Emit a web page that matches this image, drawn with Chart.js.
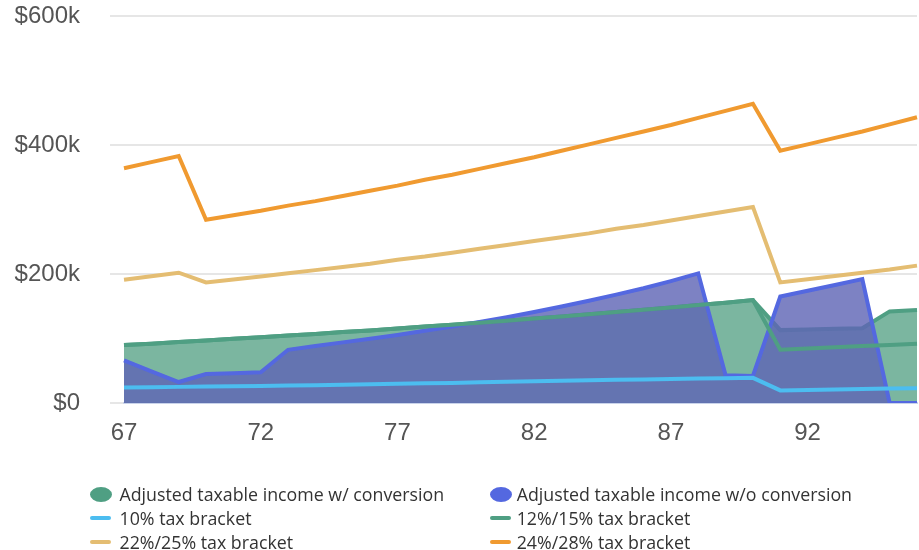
<!DOCTYPE html>
<html>
<head>
<meta charset="utf-8">
<script src="https://cdn.jsdelivr.net/npm/chart.js@4.4.1/dist/chart.umd.min.js"></script>
<style>
html,body{margin:0;padding:0;background:#fff;}
#wrap{position:relative;width:919px;height:550px;overflow:hidden;}
#c{position:absolute;left:0;top:0;}
.lg-mark{position:absolute;}
.lg-text{position:absolute;font-family:"Open Sans",sans-serif;font-size:17.8px;line-height:24px;color:#333;white-space:nowrap;}
</style>
</head>
<body>
<div id="wrap"><canvas id="c" width="919" height="550"></canvas></div>
<script>
// ---- data (values in $ thousands) ----
const ages = [67,68,69,70,71,72,73,74,75,76,77,78,79,80,81,82,83,84,85,86,87,88,89,90,91,92,93,94,95,96];
const withConversion = [90,92,94.5,97,99.5,102,104.5,107,110,112.5,115.5,118.5,121.5,124.5,127.5,131,134,137.5,141,144.5,148,152,155.5,159.5,113,114,115,116,142,144];
const withoutConversion = [66,49,32.5,45,46,47.5,82.5,88.5,94,99.5,105.5,112,118.5,125.5,133,141,149.5,158.5,168,178,189,201,43,42,165,174,183,192,0,0];
const bracket10 = [24,24.5,25,25.5,26,26.5,27,27.7,28.4,29.1,29.8,30.5,31.2,32,32.8,33.6,34.4,35.2,36,36.6,37.2,37.8,38.4,39,19.5,20.2,20.9,21.6,22.3,23];
const bracket12 = [90,92,94.5,97,99.5,102,104.5,107,110,112.5,115.5,118.5,121.5,124.5,127.5,131,134,137.5,141,144.5,148,152,155.5,159.5,82.5,84.5,86.5,88.5,90,92];
const bracket22 = [191,196.5,202,187,191.5,196,201,206,211,216,222,227,233,239,245,251,257,263,270,276,283,290,297,304,187,192,197,202,207,213];
const bracket24 = [364,373.5,383,284,291,298,306,313,321,329,337,346,354,363,372,381,391,401,411,421,431,442,453,464,391,401,411,421,432,443];
const yTickValues = [0,200,400,600];
const seriesLabels = [
  'Adjusted taxable income w/ conversion',
  'Adjusted taxable income w/o conversion',
  '10% tax bracket',
  '12%/15% tax bracket',
  '22%/25% tax bracket',
  '24%/28% tax bracket'
];

// ---- styles ----
const GREEN = '#4f9f83', GREEN_FILL = 'rgba(79,158,128,0.75)';
const BLUE = '#5468e0', BLUE_FILL = 'rgba(95,101,181,0.81)';
const LBLUE = '#4cbdf0', TAN = '#e4bd72', ORANGE = '#f09a30';

const datasets = [
  {label: seriesLabels[0], data: withConversion, borderColor: GREEN, backgroundColor: GREEN_FILL, fill: 'origin', order: 3},
  {label: seriesLabels[1], data: withoutConversion, borderColor: BLUE, backgroundColor: BLUE_FILL, fill: 'origin', order: 2},
  {label: seriesLabels[2], data: bracket10, borderColor: LBLUE, backgroundColor: LBLUE, fill: false, order: 1},
  {label: seriesLabels[3], data: bracket12, borderColor: GREEN, backgroundColor: GREEN, fill: false, order: 1},
  {label: seriesLabels[4], data: bracket22, borderColor: TAN, backgroundColor: TAN, fill: false, order: 1},
  {label: seriesLabels[5], data: bracket24, borderColor: ORANGE, backgroundColor: ORANGE, fill: false, order: 1}
];

const axisFont = {family: '"Liberation Sans", Arial, sans-serif', size: 24};

new Chart(document.getElementById('c'), {
  type: 'line',
  data: {labels: ages, datasets: datasets},
  options: {
    responsive: false,
    animation: false,
    devicePixelRatio: 1,
    layout: {padding: {top: 16, right: 2, bottom: 97, left: 0}},
    elements: {
      point: {radius: 0, hoverRadius: 0},
      line: {tension: 0, borderWidth: 4, borderJoinStyle: 'miter'}
    },
    plugins: {
      legend: {display: false},
      tooltip: {enabled: false},
      filler: {drawTime: 'beforeDatasetDraw'}
    },
    scales: {
      x: {
        grid: {display: false, drawTicks: false},
        border: {display: true, color: '#c9d3ea', width: 2},
        ticks: {
          autoSkip: false, maxRotation: 0, padding: 16,
          font: axisFont, color: '#555',
          callback: (v, i) => (i % 5 === 0 ? String(ages[i]) : '')
        },
        afterFit: s => { s.height = 50; s.paddingLeft = 0; s.paddingRight = 0; }
      },
      y: {
        min: 0, max: 600,
        afterBuildTicks: s => { s.ticks = yTickValues.map(v => ({value: v})); },
        ticks: {
          padding: 30, font: axisFont, color: '#555',
          callback: v => (v === 0 ? '$0' : '$' + v + 'k')
        },
        grid: {color: '#e6e6e6', lineWidth: 2, tickLength: 14, drawTicks: true},
        border: {display: false},
        afterFit: s => { s.width = 124; s.paddingTop = 0; s.paddingBottom = 0; }
      }
    }
  }
});

// ---- HTML legend (two columns) ----
const legendSlots = [
  {mark: 'ellipse', left: 90, textLeft: 119.5, cy: 494},
  {mark: 'ellipse', left: 489.5, textLeft: 516.7, cy: 494},
  {mark: 'line', left: 90, textLeft: 119.5, cy: 518},
  {mark: 'line', left: 489.5, textLeft: 516.7, cy: 518},
  {mark: 'line', left: 90, textLeft: 119.5, cy: 542},
  {mark: 'line', left: 489.5, textLeft: 516.7, cy: 542}
];
const wrap = document.getElementById('wrap');
datasets.forEach((ds, i) => {
  const s = legendSlots[i];
  const m = document.createElement('div');
  m.className = 'lg-mark';
  if (s.mark === 'ellipse') {
    m.style.cssText = `left:${s.left}px;top:${s.cy - 7.5}px;width:22px;height:15px;border-radius:50%;background:${ds.borderColor};`;
  } else {
    m.style.cssText = `left:${s.left}px;top:${s.cy - 2}px;width:21px;height:4px;border-radius:2px;background:${ds.borderColor};`;
  }
  wrap.appendChild(m);
  const t = document.createElement('div');
  t.className = 'lg-text';
  t.style.left = s.textLeft + 'px';
  t.style.top = (s.cy - 12) + 'px';
  t.textContent = ds.label;
  wrap.appendChild(t);
});
</script>
</body>
</html>
